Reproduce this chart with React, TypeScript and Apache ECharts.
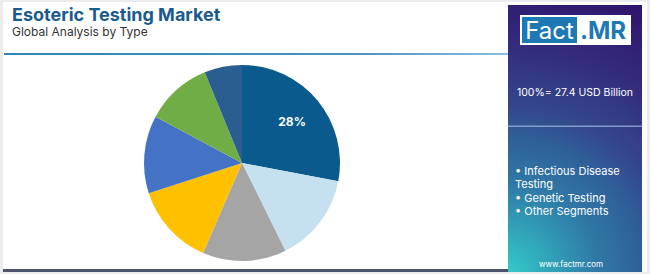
import React, { useEffect, useRef } from "react";
import * as echarts from "echarts";

const categories = [
  "Infectious Disease Testing",
  "Genetic Testing",
  "Oncology Testing",
  "Endocrinology Testing",
  "Neurology Testing",
  "Toxicology Testing",
  "Other Segments",
];
const values = [28, 14.7, 13.8, 13.5, 12.8, 11, 6.2];
const colors = ["#0b5a8e", "#c5e1f0", "#a5a5a5", "#ffc000", "#4472c4", "#70ad47", "#2a5e91"];
const title = "Esoteric Testing Market";
const subtitle = "Global Analysis by Type";
const totalText = "100%= 27.4 USD Billion";
const bullets = ["• Infectious Disease", "Testing", "• Genetic Testing", "• Other Segments"];
const website = "www.factmr.com";

export default function App() {
  const ref = useRef<HTMLDivElement>(null);
  useEffect(() => {
    document.body.style.margin = "0";
    const chart = echarts.init(ref.current!, null, { renderer: "svg" });
    const data = categories.map((c, i) => ({ name: c, value: values[i] }));
    const font = "Inter, 'Open Sans', sans-serif";
    chart.setOption({
      animation: false,
      backgroundColor: "#ececec",
      color: colors,
      graphic: [
        { type: "rect", z: 0, shape: { x: 3, y: 2, width: 644, height: 270 }, style: { fill: "#ffffff" } },
        { type: "rect", z: 1, shape: { x: 3, y: 269, width: 506, height: 3 }, style: { fill: "#4b5366" } },
        {
          type: "rect", z: 1, shape: { x: 4, y: 53, width: 506, height: 2 },
          style: {
            fill: new echarts.graphic.LinearGradient(0, 0, 1, 0, [
              { offset: 0, color: "#2f84b8" },
              { offset: 0.7, color: "#4a93c4" },
              { offset: 1, color: "#8fbde0" },
            ]),
          },
        },
        { type: "text", z: 2, left: 12, top: 5, style: { text: title, fill: "#1a5b8c", font: `bold 18px ${font}` } },
        { type: "text", z: 2, left: 12, top: 25, style: { text: subtitle, fill: "#333333", font: `12px ${font}` } },
        {
          type: "rect", z: 1, shape: { x: 508, y: 5, width: 134, height: 267 },
          style: {
            fill: new echarts.graphic.RadialGradient(508, 272, 300, [
              { offset: 0, color: "#33cac9" },
              { offset: 0.3, color: "#2f78a6" },
              { offset: 0.45, color: "#2f5f98" },
              { offset: 0.55, color: "#34478b" },
              { offset: 0.78, color: "#33287a" },
              { offset: 1, color: "#2e146a" },
            ], true),
          },
        },
        { type: "rect", z: 2, shape: { x: 508, y: 125.5, width: 134, height: 1.5 }, style: { fill: "rgba(150,175,220,0.8)" } },
        { type: "rect", z: 2, shape: { x: 520, y: 15, width: 111, height: 30 }, style: { fill: "#ffffff" } },
        { type: "rect", z: 3, shape: { x: 522, y: 17, width: 55, height: 26 }, style: { fill: "#1e78b4" } },
        { type: "text", z: 4, x: 549.5, y: 30, style: { text: "Fact", fill: "#ffffff", font: `24px ${font}`, align: "center", verticalAlign: "middle" } },
        { type: "text", z: 4, x: 603, y: 30, style: { text: ".MR", fill: "#1e78b4", font: `bold 24px ${font}`, align: "center", verticalAlign: "middle" } },
        { type: "text", z: 4, x: 575, y: 92, style: { text: totalText, fill: "#ffffff", font: `10.5px ${font}`, align: "center", verticalAlign: "middle" } },
        ...bullets.map((b, i) => ({
          type: "text", z: 4, x: 515, y: 171 + i * 13.3,
          style: { text: b, fill: "#ffffff", font: `11px ${font}`, align: "left", verticalAlign: "middle" },
        })),
        { type: "text", z: 4, x: 571, y: 264, style: { text: website, fill: "#ffffff", font: `8px ${font}`, align: "center", verticalAlign: "middle" } },
      ],
      series: [
        {
          type: "pie",
          center: [242, 163],
          radius: [0, 98],
          startAngle: 90,
          clockwise: true,
          data,
          label: { show: false },
          labelLine: { show: false },
          itemStyle: { borderWidth: 0 },
          z: 3,
        },
        {
          type: "pie",
          center: [242, 163],
          radius: [26, 98],
          startAngle: 90,
          clockwise: true,
          silent: true,
          data,
          itemStyle: { color: "transparent", borderWidth: 0 },
          label: {
            show: true,
            position: "inside",
            color: "#ffffff",
            fontFamily: "Inter, sans-serif",
            fontWeight: "bold",
            fontSize: 12,
            formatter: (p: any) => (p.dataIndex === 0 ? `${Math.round(p.percent)}%` : ""),
          },
          labelLine: { show: false },
          z: 4,
        },
      ],
    });
    return () => chart.dispose();
  }, []);
  return <div ref={ref} style={{ position: "fixed", left: 0, top: 0, width: 650, height: 274 }} />;
}
